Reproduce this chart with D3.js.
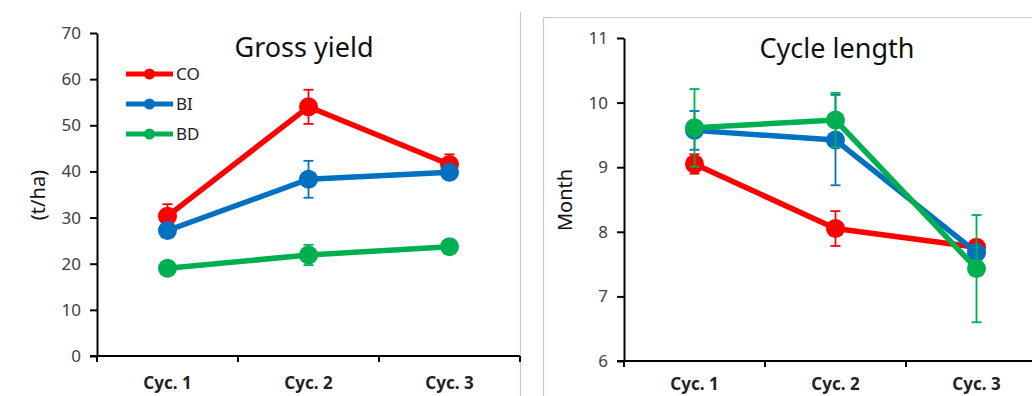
<!DOCTYPE html>
<html>
<head>
<meta charset="utf-8">
<script src="https://cdn.jsdelivr.net/npm/d3@7"></script>
<style>
  body { margin: 0; background: #fff; }
  svg { display: block; font-family: "Noto Sans", "Open Sans", sans-serif; }
</style>
</head>
<body>
<script>
const categories = ['Cyc. 1', 'Cyc. 2', 'Cyc. 3']
const seriesNames = ['CO', 'BI', 'BD']
const seriesColors = ['#ff0000', '#0070c0', '#00b050']

// Gross yield (t/ha)
const yieldCO = [30.3, 54.0, 41.5]
const yieldBI = [27.2, 38.3, 39.8]
const yieldBD = [19.0, 21.9, 23.7]
const yieldErrCO = [2.6, 3.7, 2.2]
const yieldErrBI = [1.2, 4.0, 1.0]
const yieldErrBD = [0.8, 2.2, 1.5]
const yieldTicks = [0, 10, 20, 30, 40, 50, 60, 70]

// Cycle length (month)
const lengthCO = [9.05, 8.05, 7.76]
const lengthBI = [9.57, 9.42, 7.68]
const lengthBD = [9.61, 9.73, 7.43]
const lengthErrCO = [0.15, 0.27, 0.1]
const lengthErrBI = [0.3, 0.7, 0.1]
const lengthErrBD = [0.6, 0.42, 0.83]
const lengthTicks = [6, 7, 8, 9, 10, 11]

let width = 1032
let height = 396
let svg = d3.select('body').append('svg')
    .attr('width', width)
    .attr('height', height)

// panel frames
svg.append('line')
    .attr('x1', 520.5).attr('y1', 12).attr('x2', 520.5).attr('y2', height)
    .attr('stroke', '#c8c8c8').attr('stroke-width', 1.2)
svg.append('path')
    .attr('d', `M543.5,${height} V17.5 H${width}`)
    .attr('fill', 'none')
    .attr('stroke', '#c8c8c8').attr('stroke-width', 1.2)

function drawChart(opt) {
    let g = svg.append('g')
    let x = d3.scaleBand().domain(categories).range([opt.x0, opt.x0 + 423])
    let y = d3.scaleLinear().domain(opt.domain).range([opt.yBottom, opt.yTop])
    let cx = c => x(c) + x.bandwidth() / 2

    // y axis
    let yAxis = g.append('g')
        .attr('transform', `translate(${opt.x0},0)`)
        .call(d3.axisLeft(y).tickValues(opt.ticks).tickFormat(d3.format('d'))
            .tickSize(7).tickPadding(9).tickSizeOuter(0))
    yAxis.attr('font-size', null).attr('font-family', null)
    yAxis.select('.domain').attr('stroke', '#000').attr('stroke-width', 2)
    yAxis.selectAll('.tick line').attr('stroke', '#000').attr('stroke-width', 2)
    yAxis.selectAll('.tick text')
        .attr('font-size', 17).attr('fill', '#404040')

    // x axis
    let edges = categories.map(c => x(c)).concat([x.range()[1]])
    g.append('line')
        .attr('x1', opt.x0 - 7).attr('x2', x.range()[1])
        .attr('y1', opt.yBottom).attr('y2', opt.yBottom)
        .attr('stroke', '#000').attr('stroke-width', 2)
    g.selectAll('line.xtick').data(edges)
        .enter().append('line')
        .attr('class', 'xtick')
        .attr('x1', d => d).attr('x2', d => d)
        .attr('y1', opt.yBottom).attr('y2', opt.yBottom + 6)
        .attr('stroke', '#000').attr('stroke-width', 2)
    g.selectAll('text.xlab').data(categories)
        .enter().append('text')
        .attr('class', 'xlab')
        .attr('x', d => cx(d))
        .attr('y', opt.xLabelY)
        .attr('text-anchor', 'middle')
        .attr('font-size', 17).attr('font-weight', 'bold')
        .attr('fill', '#222')
        .text(d => d)

    // axis title
    g.append('text')
        .attr('transform', `translate(${opt.labelX},${opt.labelY}) rotate(-90)`)
        .attr('text-anchor', 'middle')
        .attr('font-size', 20).attr('fill', '#111')
        .text(opt.yLabel)

    // chart title
    g.append('text')
        .attr('x', opt.titleX).attr('y', opt.titleY)
        .attr('text-anchor', 'middle')
        .attr('font-size', 27).attr('fill', '#111')
        .text(opt.title)

    let line = d3.line()
        .x((d, i) => cx(categories[i]))
        .y(d => y(d))

    opt.series.forEach((vals, s) => {
        let color = seriesColors[s]
        let errs = opt.errors[s]
        let sg = g.append('g')
        sg.append('path')
            .attr('d', line(vals))
            .attr('stroke', color).attr('stroke-width', 5.5)
            .attr('stroke-linejoin', 'round')
            .attr('fill', 'none')
        sg.selectAll('circle').data(vals)
            .enter().append('circle')
            .attr('cx', (d, i) => cx(categories[i]))
            .attr('cy', d => y(d))
            .attr('r', 9.5)
            .attr('fill', color)
        // error bars
        let eb = sg.selectAll('g.err').data(vals)
            .enter().append('g').attr('class', 'err')
        eb.append('line')
            .attr('x1', (d, i) => cx(categories[i])).attr('x2', (d, i) => cx(categories[i]))
            .attr('y1', (d, i) => y(d - errs[i])).attr('y2', (d, i) => y(d + errs[i]))
            .attr('stroke', color).attr('stroke-width', 1.8)
        ;[-1, 1].forEach(sign => {
            eb.append('line')
                .attr('x1', (d, i) => cx(categories[i]) - 5).attr('x2', (d, i) => cx(categories[i]) + 5)
                .attr('y1', (d, i) => y(d + sign * errs[i])).attr('y2', (d, i) => y(d + sign * errs[i]))
                .attr('stroke', color).attr('stroke-width', 1.8)
        })
    })
}

drawChart({
    x0: 97, yTop: 33, yBottom: 356, domain: [0, 70], ticks: yieldTicks,
    yLabel: '(t/ha)', labelX: 45, labelY: 195, xLabelY: 389,
    title: 'Gross yield', titleX: 304, titleY: 57,
    series: [yieldCO, yieldBI, yieldBD],
    errors: [yieldErrCO, yieldErrBI, yieldErrBD]
})

drawChart({
    x0: 624, yTop: 38, yBottom: 361, domain: [6, 11], ticks: lengthTicks,
    yLabel: 'Month', labelX: 572, labelY: 200, xLabelY: 390,
    title: 'Cycle length', titleX: 837, titleY: 58,
    series: [lengthCO, lengthBI, lengthBD],
    errors: [lengthErrCO, lengthErrBI, lengthErrBD]
})

// legend (left chart)
let legend = svg.append('g')
seriesNames.forEach((name, i) => {
    let ly = 74 + i * 30
    legend.append('line')
        .attr('x1', 126).attr('x2', 173).attr('y1', ly).attr('y2', ly)
        .attr('stroke', seriesColors[i]).attr('stroke-width', 5)
    legend.append('circle')
        .attr('cx', 149.5).attr('cy', ly).attr('r', 5.5)
        .attr('fill', seriesColors[i])
    legend.append('text')
        .attr('x', 176).attr('y', ly + 6)
        .attr('font-size', 17).attr('fill', '#222')
        .text(name)
})
</script>
</body>
</html>
